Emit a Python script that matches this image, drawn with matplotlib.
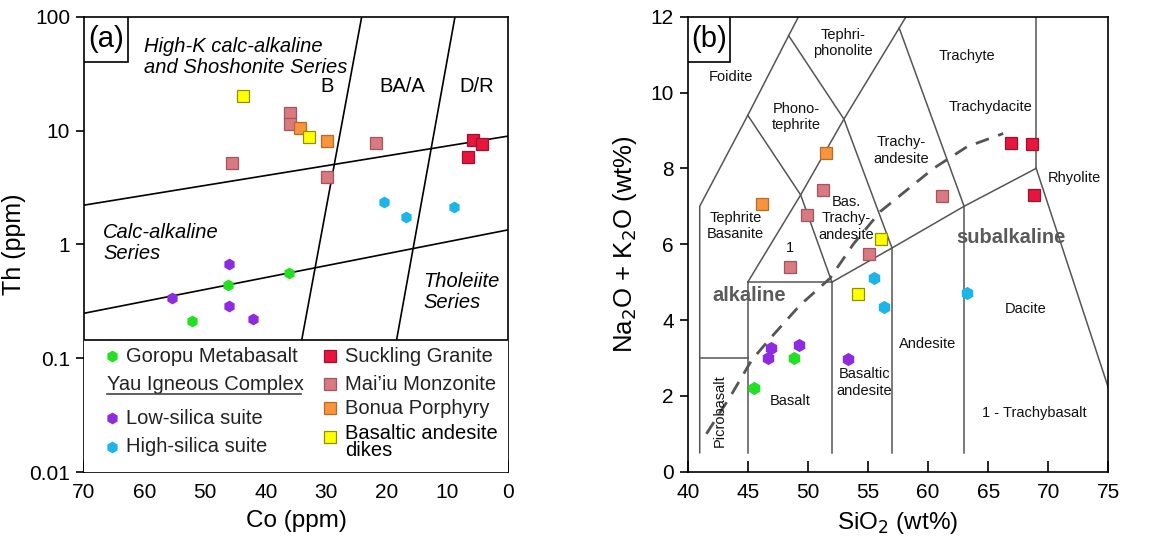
import matplotlib
matplotlib.use("Agg")
import matplotlib.pyplot as plt
from matplotlib.patches import Rectangle

plt.rcParams['font.family'] = ['Liberation Sans', 'DejaVu Sans']

# ---------------- Panel (a) data: Co (ppm) vs Th (ppm) ----------------
goropu_co = [46.3, 36.2, 52.1]
goropu_th = [0.44, 0.56, 0.21]
low_co = [46.1, 55.4, 46.1, 42.1]
low_th = [0.67, 0.34, 0.29, 0.22]
high_co = [20.5, 16.9, 8.9]
high_th = [2.35, 1.74, 2.14]
suck_co = [5.7, 4.3, 6.6]
suck_th = [8.25, 7.6, 5.9]
maiiu_co = [36.0, 36.0, 45.6, 29.8, 21.8]
maiiu_th = [14.2, 11.4, 5.2, 3.9, 7.7]
bonua_co = [34.3, 29.8]
bonua_th = [10.6, 8.1]
dike_co = [43.8, 32.8]
dike_th = [20.2, 8.8]

# boundary lines (a)
upper_co = [70, 0]
upper_th = [2.21, 8.93]
lower_co = [70, 0]
lower_th = [0.248, 1.34]
b_co = [24.15, 34.06]
b_th = [100, 0.144]
ba_co = [8.75, 18.4]
ba_th = [100, 0.144]
legend_top = 0.144

# ---------------- Panel (b) data: SiO2 vs Na2O+K2O ----------------
b_goropu_si = [48.84, 45.55]
b_goropu_alk = [2.99, 2.22]
b_low_si = [46.94, 46.71, 49.29, 53.37]
b_low_alk = [3.27, 3.01, 3.33, 2.97]
b_high_si = [55.5, 56.33, 63.24]
b_high_alk = [5.12, 4.35, 4.70]
b_suck_si = [66.9, 68.67, 68.84]
b_suck_alk = [8.68, 8.64, 7.30]
b_maiiu_si = [51.26, 49.9, 61.13, 55.12, 48.51]
b_maiiu_alk = [7.43, 6.77, 7.26, 5.74, 5.39]
b_bonua_si = [51.54, 46.2]
b_bonua_alk = [8.40, 7.06]
b_dike_si = [56.08, 54.19]
b_dike_alk = [6.15, 4.68]

# TAS field boundaries
tas_lines = [
    ([41, 41, 45, 48.4, 52.5], [0.5, 7, 9.4, 11.5, 14]),
    ([41, 45], [3, 3]),
    ([45, 45], [0.5, 5]),
    ([45, 52], [5, 5]),
    ([52, 52], [0.5, 5]),
    ([57, 57], [0.5, 5.9]),
    ([63, 63], [0.5, 7]),
    ([52, 57, 63, 69], [5, 5.9, 7, 8]),
    ([69, 69], [8, 13]),
    ([69, 77.3], [8, 0]),
    ([45, 49.4, 53, 57.6, 61], [5, 7.3, 9.3, 11.7, 13.5]),
    ([45, 49.4, 52], [9.4, 7.3, 5]),
    ([48.4, 53, 57], [11.5, 9.3, 5.9]),
    ([57.6, 63], [11.7, 7]),
]
ib_si = [41.56, 43.52, 45.32, 46.85, 49.34, 51.84, 53.78, 56.02, 60.46, 63.24, 66.26]
ib_alk = [1.0, 1.97, 2.94, 3.51, 4.39, 5.1, 6.0, 6.86, 8.0, 8.57, 8.92]

tas_labels = [
    ("Foidite", 43.6, 10.4),
    ("Tephri-\nphonolite", 52.95, 11.3),
    ("Trachyte", 63.2, 10.96),
    ("Phono-\ntephrite", 49.07, 9.36),
    ("Trachydacite", 65.23, 9.61),
    ("Trachy-\nandesite", 57.8, 8.47),
    ("Rhyolite", 72.2, 7.75),
    ("Tephrite\nBasanite", 44.0, 6.48),
    ("Bas.\nTrachy-\nandesite", 53.2, 6.68),
    ("1", 48.5, 5.89),
    ("Dacite", 68.15, 4.28),
    ("Andesite", 60.0, 3.36),
    ("Basaltic\nandesite", 54.7, 2.35),
    ("Basalt", 48.57, 1.86),
    ("1 - Trachybasalt", 68.84, 1.55),
]

# styles
C_GREEN = '#22e022'
C_PURPLE = '#8e2be0'
C_CYAN = '#1cb5e8'
C_RED = '#e8163c'
C_PINK = '#d97a80'
C_ORANGE = '#f7943c'
C_YELLOW = '#ffff00'
E_RED = '#a01030'
E_PINK = '#a05560'
E_ORANGE = '#b86a28'
E_YELLOW = '#909000'

fig = plt.figure(figsize=(11.65, 5.47), dpi=100)
ax1 = fig.add_axes([84/1165, 75/547, 424/1165, 455.3/547])
ax2 = fig.add_axes([687.7/1165, 75.3/547, 420.6/1165, 455/547])

TICK_FS = 15
LAB_FS = 17.5
YLAB_FS = 18

# ---------- panel (a) ----------
ax1.set_yscale('log')
ax1.set_xlim(70, 0)
ax1.set_ylim(0.01, 100)
ax1.plot(upper_co, upper_th, color='black', lw=1.2, zorder=2)
ax1.plot(lower_co, lower_th, color='black', lw=1.2, zorder=2)
ax1.plot(b_co, b_th, color='black', lw=1.2, zorder=2)
ax1.plot(ba_co, ba_th, color='black', lw=1.2, zorder=2)

hk = dict(marker='h', linestyle='none', markersize=8.5, markeredgewidth=0)
sq = dict(marker='s', linestyle='none', markersize=8, markeredgewidth=0.9)
ax1.plot(goropu_co, goropu_th, color=C_GREEN, zorder=4, **hk)
ax1.plot(low_co, low_th, color=C_PURPLE, zorder=4, **hk)
ax1.plot(high_co, high_th, color=C_CYAN, zorder=4, **hk)
ax1.plot(suck_co, suck_th, color=C_RED, markeredgecolor=E_RED, zorder=4, **sq)
ax1.plot(maiiu_co, maiiu_th, color=C_PINK, markeredgecolor=E_PINK, zorder=4, **sq)
ax1.plot(bonua_co, bonua_th, color=C_ORANGE, markeredgecolor=E_ORANGE, zorder=4, **sq)
ax1.plot(dike_co, dike_th, color=C_YELLOW, markeredgecolor=E_YELLOW, zorder=4, **sq)

# legend box area
ax1.add_patch(Rectangle((70, 0.01), -70, legend_top - 0.01, facecolor='white',
                        edgecolor='none', zorder=5))
ax1.plot([70, 0], [legend_top, legend_top], color='black', lw=1.2, zorder=6)

ax1.set_xticks([70, 60, 50, 40, 30, 20, 10, 0])
ax1.set_xticklabels(['70', '60', '50', '40', '30', '20', '10', '0'])
ax1.set_yticks([0.01, 0.1, 1, 10, 100])
ax1.set_yticklabels(['0.01', '0.1', '1', '10', '100'])
ax1.minorticks_off()
ax1.tick_params(axis='x', direction='in', length=8, width=1.2, labelsize=TICK_FS, pad=8)
ax1.tick_params(axis='y', direction='out', length=6, width=1.2, labelsize=TICK_FS, pad=4)
ax1.set_xlabel('Co (ppm)', fontsize=LAB_FS, labelpad=6)
ax1.set_ylabel('Th (ppm)', fontsize=YLAB_FS, labelpad=2)
for s in ax1.spines.values():
    s.set_linewidth(1.2)

tr1 = ax1.transAxes


def ay(py):
    return 1 - (py - 16.7) / 455.3


def ax_(px):
    return (px - 84) / 424


ax1.add_patch(Rectangle((0, 1 - 45.3/455.3), 44/424, 45.3/455.3, transform=tr1,
                        facecolor='white', edgecolor='black', lw=1.2, zorder=7))
ax1.text(22/424, 1 - 22.6/455.3, '(a)', transform=tr1, fontsize=21,
         ha='center', va='center', zorder=8)
ax1.text(ax_(144), ay(36.5), 'High-K calc-alkaline\nand Shoshonite Series',
         transform=tr1, fontsize=14.5, style='italic', ha='left', va='top',
         linespacing=1.15, zorder=8)
ax1.text(ax_(327), ay(87), 'B', transform=tr1, fontsize=14.5,
         ha='center', va='center', zorder=8)
ax1.text(ax_(402), ay(87), 'BA/A', transform=tr1, fontsize=14.5,
         ha='center', va='center', zorder=8)
ax1.text(ax_(477), ay(87), 'D/R', transform=tr1, fontsize=14.5,
         ha='center', va='center', zorder=8)
ax1.text(ax_(103), ay(243), 'Calc-alkaline\nSeries', transform=tr1,
         fontsize=14.5, style='italic', ha='left', va='center', linespacing=1.15, zorder=8)
ax1.text(ax_(423), ay(292), 'Tholeiite\nSeries', transform=tr1,
         fontsize=14.5, style='italic', ha='left', va='center', linespacing=1.15, zorder=8)

# legend entries (drawn in axes coords)
LEG_FS = 14.5
left_items = [
    (C_GREEN, 'Goropu Metabasalt', 356),
    (C_PURPLE, 'Low-silica suite', 418),
    (C_CYAN, 'High-silica suite', 447),
]
for fc, lab, py in left_items:
    ax1.plot([ax_(112)], [ay(py)], transform=tr1, color=fc, marker='h',
             markersize=8.5, markeredgewidth=0, linestyle='none', zorder=8)
    ax1.text(ax_(126), ay(py), lab, transform=tr1, fontsize=LEG_FS,
             ha='left', va='center', zorder=8, color='#222222')
ax1.text(ax_(107), ay(385), 'Yau Igneous Complex', transform=tr1, fontsize=LEG_FS,
         ha='left', va='center', zorder=8, color='#222222')
ax1.plot([ax_(107), ax_(301)], [ay(394), ay(394)], transform=tr1, color='#444444',
         lw=1.2, zorder=8)

right_items = [
    (C_RED, E_RED, 'Suckling Granite', 356),
    (C_PINK, E_PINK, 'Mai\u2019iu Monzonite', 384),
    (C_ORANGE, E_ORANGE, 'Bonua Porphyry', 408),
]
for fc, ec, lab, py in right_items:
    ax1.plot([ax_(330)], [ay(py)], transform=tr1, color=fc, markeredgecolor=ec,
             marker='s', markersize=8, markeredgewidth=0.9, linestyle='none', zorder=8)
    ax1.text(ax_(345), ay(py), lab, transform=tr1, fontsize=LEG_FS, ha='left',
             va='center', zorder=8, color='#222222')
ax1.plot([ax_(330)], [ay(437)], transform=tr1, color=C_YELLOW, markeredgecolor=E_YELLOW,
         marker='s', markersize=8, markeredgewidth=0.9, linestyle='none', zorder=8)
ax1.text(ax_(345), ay(442), 'Basaltic andesite\ndikes', transform=tr1, fontsize=LEG_FS,
         ha='left', va='center', zorder=8, linespacing=0.85, color='black')

# ---------- panel (b) ----------
ax2.set_xlim(40, 75)
ax2.set_ylim(0, 12)
for xs, ys in tas_lines:
    ax2.plot(xs, ys, color='#555555', lw=1.1, zorder=2)
ax2.plot(ib_si, ib_alk, color='#555555', lw=2, linestyle=(0, (5, 3.5)), zorder=2)

hk2 = dict(marker='h', linestyle='none', markersize=9.5, markeredgewidth=0)
sq2 = dict(marker='s', linestyle='none', markersize=9, markeredgewidth=0.9)
ax2.plot(b_goropu_si, b_goropu_alk, color=C_GREEN, zorder=4, **hk2)
ax2.plot(b_low_si, b_low_alk, color=C_PURPLE, zorder=4, **hk2)
ax2.plot(b_high_si, b_high_alk, color=C_CYAN, zorder=4, **hk2)
ax2.plot(b_suck_si, b_suck_alk, color=C_RED, markeredgecolor=E_RED, zorder=4, **sq2)
ax2.plot(b_maiiu_si, b_maiiu_alk, color=C_PINK, markeredgecolor=E_PINK, zorder=4, **sq2)
ax2.plot(b_bonua_si, b_bonua_alk, color=C_ORANGE, markeredgecolor=E_ORANGE, zorder=4, **sq2)
ax2.plot(b_dike_si, b_dike_alk, color=C_YELLOW, markeredgecolor=E_YELLOW, zorder=4, **sq2)

for lab, x, y in tas_labels:
    ax2.text(x, y, lab, fontsize=10.5, ha='center', va='center', linespacing=1.2,
             color='#111111', zorder=3)
ax2.text(42.69, 1.62, 'Picrobasalt', fontsize=10.5, rotation=90, ha='center',
         va='center', color='#111111', zorder=3)
ax2.text(66.9, 6.18, 'subalkaline', fontsize=14.5, fontweight='bold', ha='center',
         va='center', color='#5a5a5a', zorder=3)
ax2.text(45.1, 4.66, 'alkaline', fontsize=14.5, fontweight='bold', ha='center',
         va='center', color='#5a5a5a', zorder=3)

tr2 = ax2.transAxes
ax2.add_patch(Rectangle((0, 1 - 45.3/455), 42.3/420.6, 45.3/455, transform=tr2,
                        facecolor='white', edgecolor='black', lw=1.2, zorder=7))
ax2.text(21/420.6, 1 - 22.6/455, '(b)', transform=tr2, fontsize=21,
         ha='center', va='center', zorder=8)

ax2.set_xticks([40, 45, 50, 55, 60, 65, 70, 75])
ax2.set_yticks([0, 2, 4, 6, 8, 10, 12])
ax2.tick_params(axis='x', direction='in', length=8, width=1.2, labelsize=TICK_FS, pad=8)
ax2.tick_params(axis='y', direction='out', length=6, width=1.2, labelsize=TICK_FS, pad=4)
ax2.set_xlabel('SiO$_2$ (wt%)', fontsize=LAB_FS, labelpad=6)
ax2.set_ylabel('Na$_2$O + K$_2$O (wt%)', fontsize=YLAB_FS + 0.5, labelpad=8)
for s in ax2.spines.values():
    s.set_linewidth(1.2)

fig.savefig('out.png', dpi=100)
